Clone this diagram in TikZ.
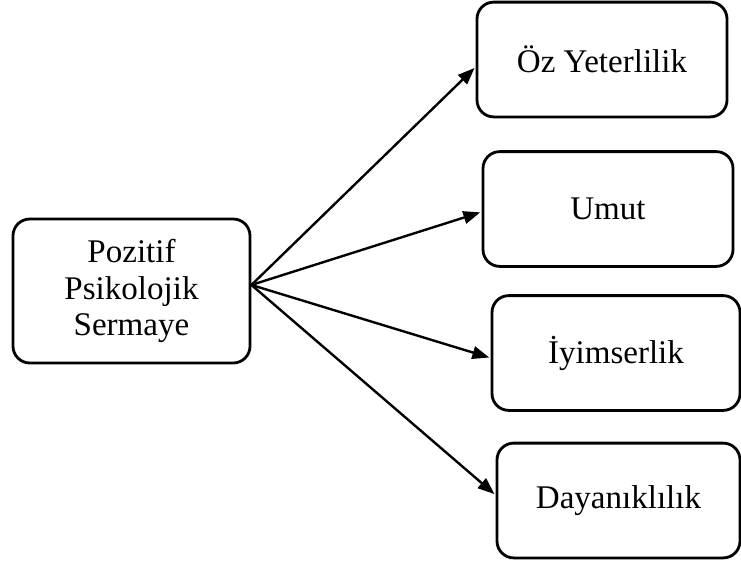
\documentclass[tikz,border=0pt]{standalone}
\usepackage{fontspec}
\setmainfont{Liberation Serif}
\usetikzlibrary{arrows.meta}

\begin{document}
\begin{tikzpicture}[
  >={Triangle[length=12pt, width=9pt]},
  font=\fontsize{23.5}{26}\selectfont,
  box/.style={rectangle, rounded corners=0.42cm, draw=black, line width=2pt,
              align=center, inner sep=2pt},
  item/.style={box, minimum width=6.25cm, minimum height=2.87cm},
  arr/.style={->, draw=black, line width=1.7pt, shorten >=1pt}
]
\useasboundingbox (0,0) rectangle (18.525,-14.1);
% --- Kaynak ---
\node[box, minimum width=5.925cm, minimum height=3.6cm] (psy) at (3.2875,-7.275)
  {Pozitif\\Psikolojik\\Sermaye};
\coordinate (hub) at ([yshift=4.3pt]psy.east);
% --- Boyutlar ---
\node[item] (oz)   at (15.05,-1.4875)   {Öz Yeterlilik};
\node[item] (umut) at (15.2,-5.225)     {Umut};
\node[item, minimum width=6.2cm] (iyi)  at (15.4,-8.825)  {İyimserlik};
\node[item, minimum width=6.075cm] (day) at (15.4625,-12.5125) {Dayanıklılık};
\draw[arr] (hub) -- ([yshift=-5.3pt]oz.west);
\draw[arr] (hub) -- ([yshift=-2.1pt]umut.west);
\draw[arr] (hub) -- ([yshift=-3.5pt]iyi.west);
\draw[arr] (hub) -- ([yshift=3.9pt]day.west);
\end{tikzpicture}
\end{document}
